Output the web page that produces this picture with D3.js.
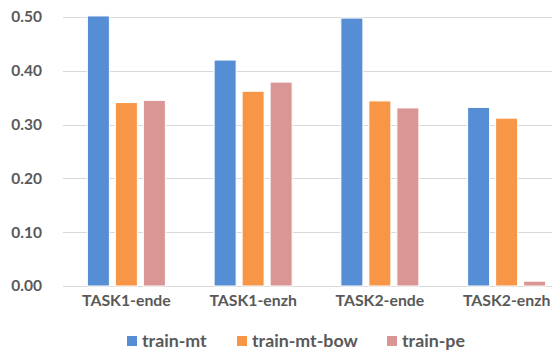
<!DOCTYPE html>
<html>
<head>
<meta charset="utf-8">
<script src="https://cdn.jsdelivr.net/npm/d3@7"></script>
<style>
  html, body { margin: 0; padding: 0; background: #fff; }
  svg { display: block; }
  text { font-family: Lato, "Open Sans", sans-serif; font-weight: bold; fill: #595959; }
</style>
</head>
<body>
<svg id="chart" width="552" height="351"></svg>
<script>
// Scores per task for each training setup
const categories = ["TASK1-ende", "TASK1-enzh", "TASK2-ende", "TASK2-enzh"];
const seriesNames = ["train-mt", "train-mt-bow", "train-pe"];
const trainMt = [0.502, 0.420, 0.498, 0.332];
const trainMtBow = [0.341, 0.362, 0.344, 0.312];
const trainPe = [0.345, 0.379, 0.331, 0.009];
const yTicks = [0.0, 0.1, 0.2, 0.3, 0.4, 0.5];
const colors = ["#558ED5", "#F79646", "#D99694"];

const seriesValues = [trainMt, trainMtBow, trainPe];
const svg = d3.select("#chart");
const W = 552;

// plot area; the last category band runs past the right edge
const plotLeft = 63, plotRight = 570, plotTop = 17, plotBottom = 286;

const x = d3.scaleBand().domain(categories).range([plotLeft, plotRight]).paddingInner(0).paddingOuter(0);
const x1 = d3.scaleBand().domain(seriesNames).range([0, x.bandwidth()]).paddingInner(0.214).paddingOuter(0.87);
const y = d3.scaleLinear().domain([0, 0.5]).range([plotBottom, plotTop]);

// horizontal gridlines
svg.append("g")
  .selectAll("line")
  .data(yTicks)
  .join("line")
  .attr("x1", plotLeft).attr("x2", W)
  .attr("y1", d => Math.round(y(d)) + 0.5)
  .attr("y2", d => Math.round(y(d)) + 0.5)
  .attr("stroke", "#D9D9D9")
  .attr("stroke-width", 1);

// y axis labels
const yAxis = d3.axisLeft(y).tickValues(yTicks).tickFormat(d3.format(".2f")).tickSize(0).tickPadding(0);
const gy = svg.append("g").attr("transform", `translate(${42},0)`).call(yAxis);
gy.select(".domain").remove();
gy.selectAll("text").attr("font-size", 15.5).attr("font-family", null).attr("fill", "#595959");

// bars
const groups = svg.append("g")
  .selectAll("g")
  .data(categories)
  .join("g")
  .attr("transform", d => `translate(${x(d)},0)`);

groups.selectAll("rect")
  .data((c, i) => seriesNames.map((s, j) => ({ s, v: seriesValues[j][i], j })))
  .join("rect")
  .attr("x", d => x1(d.s))
  .attr("width", x1.bandwidth())
  .attr("y", d => y(d.v))
  .attr("height", d => y(0) - y(d.v))
  .attr("fill", d => colors[d.j])
  .attr("stroke", "#fff")
  .attr("stroke-width", 1);

// x axis labels
const xAxis = d3.axisBottom(x).tickSize(0).tickPadding(0);
const gx = svg.append("g").attr("transform", `translate(0,${plotBottom + 9})`).call(xAxis);
gx.select(".domain").remove();
gx.selectAll("text").attr("font-size", 15.8).attr("font-family", null).attr("fill", "#595959").attr("dy", "0.71em");

// legend
const legendX = [127, 237, 387];
const legend = svg.append("g").selectAll("g")
  .data(seriesNames)
  .join("g")
  .attr("transform", (d, i) => `translate(${legendX[i]},${336})`);
legend.append("rect").attr("width", 10).attr("height", 10).attr("y", 0).attr("fill", (d, i) => colors[i]);
legend.append("text").attr("x", 15).attr("y", 5).attr("dy", "0.35em").attr("font-size", 17.8).text(d => d);
</script>
</body>
</html>
